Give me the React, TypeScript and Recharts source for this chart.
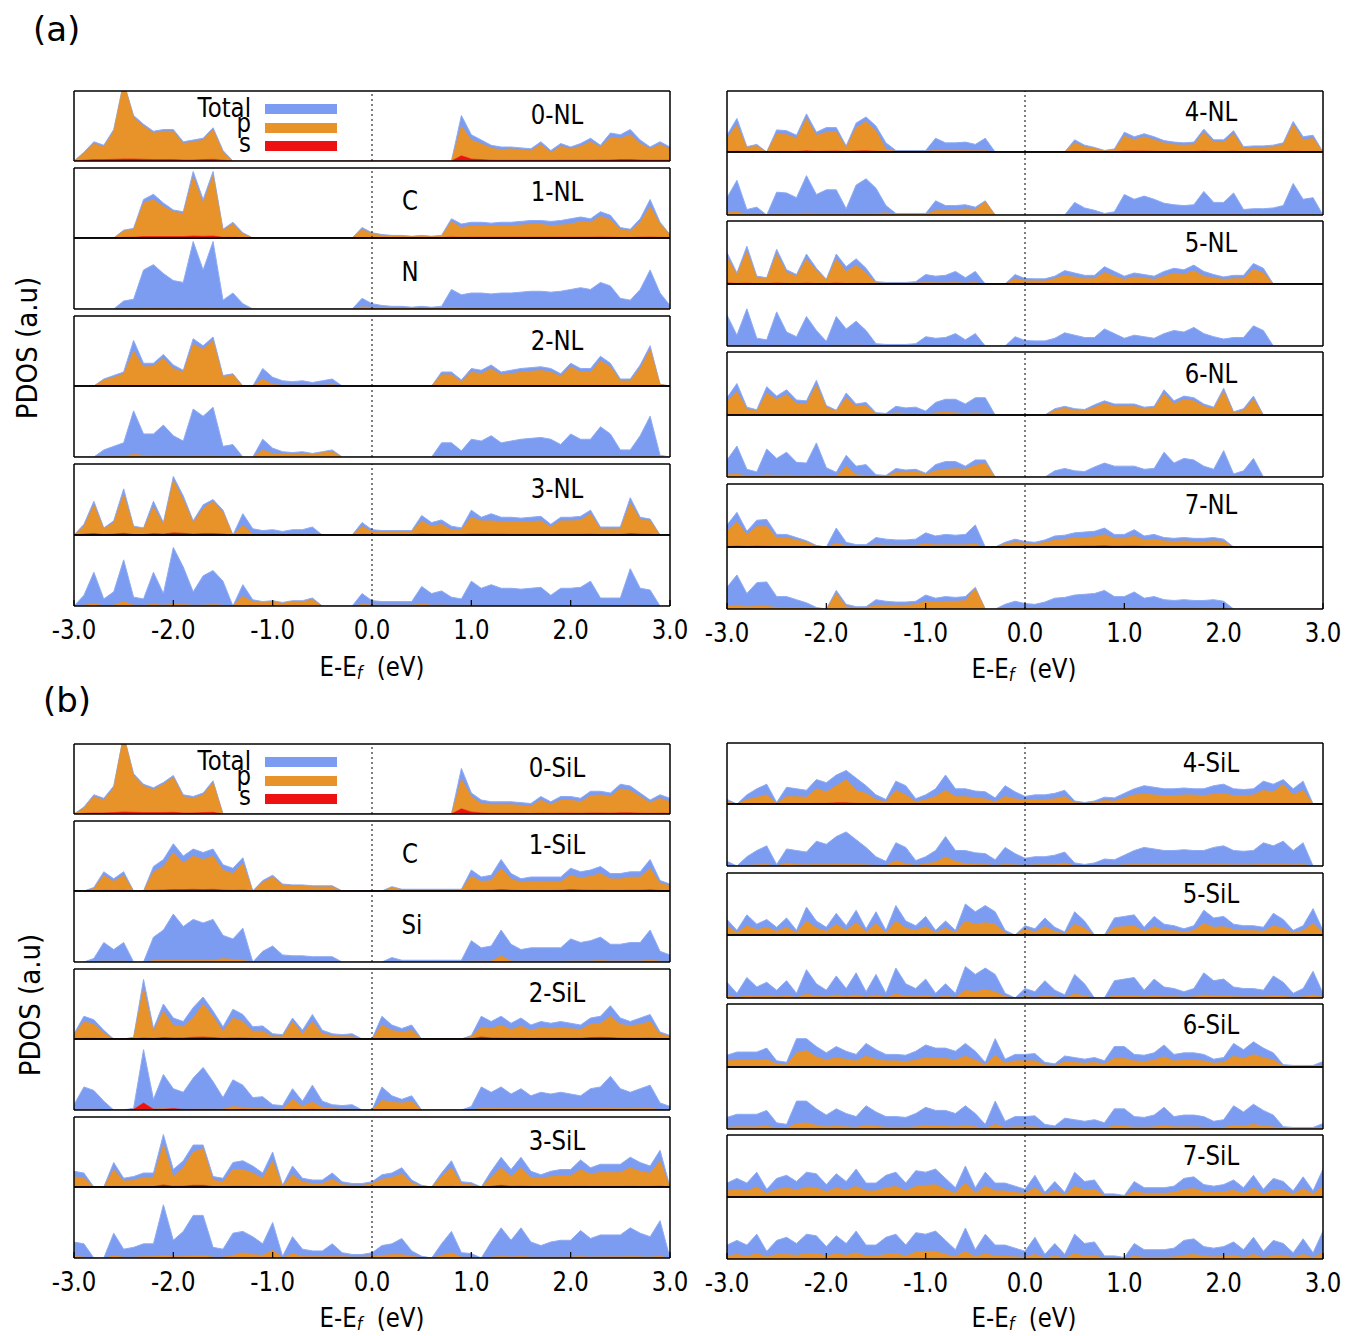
import { AreaChart, Area, XAxis, YAxis, ReferenceLine } from 'recharts'

const FONT = '"DejaVu Sans", Verdana, sans-serif'
const BLUE = '#7b9cf0'
const BLUE_EDGE = '#8eacf4'
const ORANGE = '#e8922a'
const RED = '#ee1111'

const PLOT_W = 596
const PAD = 2
const PAD_X = 32

// energy grid, eV
const energy = [
  -3.0, -2.9, -2.8, -2.7, -2.6, -2.5, -2.4, -2.3, -2.2, -2.1,
  -2.0, -1.9, -1.8, -1.7, -1.6, -1.5, -1.4, -1.3, -1.2, -1.1,
  -1.0, -0.9, -0.8, -0.7, -0.6, -0.5, -0.4, -0.3, -0.2, -0.1,
  0.0,
  0.1, 0.2, 0.3, 0.4, 0.5, 0.6, 0.7, 0.8, 0.9, 1.0,
  1.1, 1.2, 1.3, 1.4, 1.5, 1.6, 1.7, 1.8, 1.9, 2.0,
  2.1, 2.2, 2.3, 2.4, 2.5, 2.6, 2.7, 2.8, 2.9, 3.0,
]

const xTicks = [-3, -2, -1, 0, 1, 2, 3]
const yTicks = [1, 2, 3]

// ---------- (a) NL ----------
const totalNL0 = [
  0, 0.5, 1.1, 0.9, 1.8, 4.5, 2.6, 2.1, 1.7, 1.8,
  1.8, 1.1, 1.2, 1.3, 1.9, 0.6, 0, 0, 0, 0,
  0, 0, 0, 0, 0, 0, 0, 0, 0, 0,
  0,
  0, 0, 0, 0, 0, 0, 0, 0, 2.6, 1.5,
  1.2, 0.9, 0.8, 0.8, 0.75, 0.7, 1.1, 0.6, 1.0, 0.8,
  1.0, 1.3, 0.9, 1.6, 1.5, 1.8, 1.2, 0.8, 1.1, 0.8,
]
const pNL0 = [
  0, 0.45, 1.0, 0.8, 1.7, 4.5, 2.5, 2.0, 1.6, 1.7,
  1.7, 1.0, 1.1, 1.2, 1.8, 0.5, 0, 0, 0, 0,
  0, 0, 0, 0, 0, 0, 0, 0, 0, 0,
  0,
  0, 0, 0, 0, 0, 0, 0, 0, 2.0, 1.2,
  1.0, 0.75, 0.65, 0.7, 0.65, 0.6, 0.95, 0.5, 0.85, 0.7,
  0.85, 1.1, 0.8, 1.35, 1.3, 1.5, 1.0, 0.7, 0.95, 0.7,
]
const sNL0 = [
  0, 0.05, 0.08, 0.08, 0.1, 0.12, 0.12, 0.1, 0.08, 0.08,
  0.08, 0.06, 0.06, 0.08, 0.1, 0.05, 0, 0, 0, 0,
  0, 0, 0, 0, 0, 0, 0, 0, 0, 0,
  0,
  0, 0, 0, 0, 0, 0, 0, 0, 0.3, 0.12,
  0.08, 0.05, 0.04, 0.04, 0.04, 0.04, 0.04, 0.04, 0.05, 0.05,
  0.05, 0.05, 0.06, 0.06, 0.08, 0.08, 0.06, 0.05, 0.05, 0.05,
]

const totalNL1 = [
  0, 0, 0, 0, 0, 0.45, 0.55, 2.2, 2.5, 2.0,
  1.6, 1.5, 3.8, 2.2, 3.8, 0.5, 0.9, 0.3, 0, 0,
  0, 0, 0, 0, 0, 0, 0, 0, 0, 0.6,
  0.3,
  0.2, 0.15, 0.15, 0.1, 0.15, 0.1, 0.15, 1.1, 0.8, 0.9,
  0.9, 0.85, 0.9, 0.9, 0.95, 1.0, 1.0, 0.95, 1.0, 1.1,
  1.2, 1.1, 1.5, 1.3, 0.6, 0.5, 1.1, 2.2, 0.9, 0.2,
]
const pNL1C = [
  0, 0, 0, 0, 0, 0.4, 0.5, 2.0, 2.2, 1.8,
  1.5, 1.4, 3.5, 2.0, 3.6, 0.45, 0.8, 0.25, 0, 0,
  0, 0, 0, 0, 0, 0, 0, 0, 0, 0.5,
  0.25,
  0.15, 0.12, 0.12, 0.08, 0.12, 0.08, 0.12, 0.95, 0.6, 0.7,
  0.7, 0.7, 0.7, 0.7, 0.75, 0.8, 0.8, 0.7, 0.75, 0.8,
  0.95, 0.9, 1.25, 1.05, 0.5, 0.4, 0.9, 1.8, 0.8, 0.2,
]
const sNL1C = [
  0, 0, 0, 0, 0, 0.04, 0.05, 0.08, 0.08, 0.08,
  0.08, 0.08, 0.12, 0.1, 0.12, 0.04, 0.04, 0.02, 0, 0,
  0, 0, 0, 0, 0, 0, 0, 0, 0, 0.03,
  0.02,
  0.02, 0.02, 0.02, 0.02, 0.02, 0.02, 0.02, 0.06, 0.04, 0.05,
  0.05, 0.05, 0.05, 0.05, 0.05, 0.05, 0.05, 0.05, 0.05, 0.05,
  0.05, 0.05, 0.06, 0.05, 0.03, 0.03, 0.05, 0.06, 0.04, 0.02,
]
const pNL1N = [
  0, 0, 0, 0, 0, 0.02, 0.02, 0.05, 0.05, 0.05,
  0.05, 0.05, 0.06, 0.05, 0.06, 0.02, 0.03, 0.02, 0, 0,
  0, 0, 0, 0, 0, 0, 0, 0, 0, 0.12,
  0.1,
  0.08, 0.05, 0.04, 0.03, 0.04, 0.03, 0.05, 0.1, 0.05, 0.04,
  0.03, 0.03, 0.03, 0.03, 0.03, 0.03, 0.03, 0.03, 0.03, 0.03,
  0.03, 0.03, 0.04, 0.03, 0.02, 0.02, 0.03, 0.05, 0.03, 0.01,
]

const totalNL2 = [
  0, 0, 0, 0.4, 0.6, 0.8, 2.6, 1.3, 1.3, 1.8,
  1.2, 0.9, 2.7, 2.3, 2.8, 0.6, 0.7, 0, 0, 1.0,
  0.5, 0.3, 0.25, 0.3, 0.2, 0.3, 0.4, 0, 0, 0,
  0,
  0, 0, 0, 0, 0, 0, 0.8, 0.8, 0.35, 1.0,
  0.9, 1.2, 0.8, 0.9, 1.0, 1.05, 1.1, 1.0, 0.7, 1.3,
  1.0, 1.0, 1.7, 1.3, 0.4, 0.4, 1.2, 2.3, 0.1, 0,
]
const pNL2a = [
  0, 0, 0, 0.35, 0.5, 0.7, 2.0, 1.1, 1.15, 1.6,
  1.0, 0.8, 2.4, 2.1, 2.6, 0.5, 0.65, 0, 0, 0.4,
  0.1, 0.05, 0.05, 0.05, 0.05, 0.05, 0.08, 0, 0, 0,
  0,
  0, 0, 0, 0, 0, 0, 0.65, 0.65, 0.25, 0.8,
  0.7, 1.0, 0.65, 0.7, 0.8, 0.85, 0.9, 0.8, 0.55, 1.1,
  0.8, 0.8, 1.45, 1.1, 0.3, 0.3, 1.0, 2.1, 0.1, 0,
]
const pNL2b = [
  0, 0, 0, 0.02, 0.03, 0.05, 0.15, 0.1, 0.05, 0.05,
  0.05, 0.03, 0.05, 0.05, 0.05, 0.02, 0.03, 0, 0, 0.4,
  0.2, 0.2, 0.15, 0.2, 0.15, 0.25, 0.3, 0, 0, 0,
  0,
  0, 0, 0, 0, 0, 0, 0.02, 0.02, 0.01, 0.02,
  0.02, 0.02, 0.02, 0.02, 0.02, 0.02, 0.02, 0.02, 0.02, 0.02,
  0.02, 0.02, 0.03, 0.02, 0.01, 0.01, 0.02, 0.03, 0, 0,
]

const totalNL3 = [
  0, 0.6, 1.9, 0.4, 0.8, 2.6, 0.5, 0.4, 1.9, 0.7,
  3.3, 2.2, 0.8, 1.7, 2.0, 1.4, 0, 1.2, 0.35, 0.25,
  0.3, 0.2, 0.3, 0.3, 0.45, 0, 0, 0, 0, 0.7,
  0.3,
  0.25, 0.25, 0.25, 0.25, 1.1, 0.7, 0.85, 0.5, 0.4, 1.4,
  1.0, 1.2, 1.0, 1.0, 0.95, 1.0, 1.05, 0.6, 1.0, 1.0,
  1.05, 1.4, 0.45, 0.45, 0.45, 2.1, 1.0, 0.9, 0, 0,
]
const pNL3a = [
  0, 0.5, 1.7, 0.35, 0.7, 2.3, 0.45, 0.35, 1.6, 0.6,
  3.1, 2.0, 0.7, 1.5, 1.9, 1.3, 0, 0.55, 0.05, 0.05,
  0.05, 0.04, 0.05, 0.05, 0.06, 0, 0, 0, 0, 0.5,
  0.2,
  0.2, 0.2, 0.2, 0.2, 0.8, 0.5, 0.6, 0.3, 0.3, 1.0,
  0.8, 0.8, 0.75, 0.75, 0.75, 0.75, 0.8, 0.45, 0.8, 0.8,
  0.85, 1.2, 0.35, 0.35, 0.35, 1.8, 0.9, 0.8, 0, 0,
]
const sNL3a = [
  0, 0.05, 0.08, 0.03, 0.05, 0.1, 0.03, 0.03, 0.08, 0.05,
  0.12, 0.1, 0.05, 0.08, 0.08, 0.06, 0, 0.04, 0.02, 0.02,
  0.02, 0.02, 0.02, 0.02, 0.02, 0, 0, 0, 0, 0.04,
  0.02,
  0.02, 0.02, 0.02, 0.02, 0.06, 0.04, 0.04, 0.03, 0.03, 0.06,
  0.06, 0.05, 0.05, 0.04, 0.04, 0.04, 0.04, 0.03, 0.04, 0.04,
  0.04, 0.05, 0.03, 0.03, 0.03, 0.08, 0.05, 0.04, 0, 0,
]
const pNL3b = [
  0, 0.05, 0.12, 0.03, 0.05, 0.25, 0.05, 0.04, 0.1, 0.05,
  0.1, 0.08, 0.05, 0.06, 0.08, 0.05, 0, 0.55, 0.25, 0.2,
  0.25, 0.15, 0.25, 0.25, 0.35, 0, 0, 0, 0, 0.1,
  0.05,
  0.05, 0.05, 0.05, 0.05, 0.1, 0.05, 0.06, 0.04, 0.04, 0.05,
  0.03, 0.03, 0.03, 0.03, 0.03, 0.03, 0.03, 0.03, 0.03, 0.03,
  0.03, 0.04, 0.02, 0.02, 0.02, 0.05, 0.03, 0.03, 0, 0,
]

const totalNL4 = [
  1.1, 2.2, 0.35, 0.5, 0, 1.45, 1.4, 1.1, 2.5, 1.3,
  1.6, 1.6, 0.4, 1.9, 2.3, 1.7, 0.6, 0.1, 0.1, 0.1,
  0.1, 0.9, 0.6, 0.6, 0.65, 0.5, 0.9, 0, 0, 0,
  0,
  0, 0, 0, 0, 0.8, 0.45, 0.3, 0.1, 0.2, 1.3,
  1.0, 1.2, 1.0, 0.75, 0.65, 0.6, 0.65, 1.5, 0.8, 0.8,
  1.4, 0.35, 0.4, 0.4, 0.45, 0.6, 2.0, 1.0, 1.1, 0,
]
const pNL4a = [
  0.9, 1.8, 0.3, 0.4, 0, 1.2, 1.15, 0.9, 2.2, 1.1,
  1.3, 1.35, 0.3, 1.6, 2.0, 1.4, 0.2, 0.05, 0.05, 0.05,
  0.05, 0.12, 0.1, 0.1, 0.1, 0.08, 0.1, 0, 0, 0,
  0,
  0, 0, 0, 0, 0.6, 0.35, 0.25, 0.08, 0.15, 1.05,
  0.8, 1.0, 0.8, 0.6, 0.5, 0.45, 0.5, 1.3, 0.65, 0.65,
  1.2, 0.25, 0.3, 0.3, 0.35, 0.5, 1.8, 0.8, 0.9, 0,
]
const sNL4a = [
  0.03, 0.05, 0.02, 0.02, 0, 0.04, 0.04, 0.03, 0.08, 0.04,
  0.05, 0.07, 0.02, 0.07, 0.08, 0.05, 0.02, 0, 0, 0,
  0, 0, 0, 0, 0, 0, 0, 0, 0, 0,
  0,
  0, 0, 0, 0, 0.04, 0.02, 0.02, 0.01, 0.01, 0.07,
  0.07, 0.06, 0.04, 0.03, 0.02, 0.02, 0.03, 0.06, 0.03, 0.03,
  0.05, 0.02, 0.02, 0.02, 0.02, 0.02, 0.06, 0.03, 0.03, 0,
]
const pNL4b = [
  0.15, 0.2, 0.05, 0.05, 0, 0.1, 0.1, 0.08, 0.12, 0.1,
  0.1, 0.1, 0.05, 0.1, 0.1, 0.1, 0.15, 0.05, 0.05, 0.05,
  0.05, 0.3, 0.3, 0.3, 0.4, 0.35, 0.85, 0, 0, 0,
  0,
  0, 0, 0, 0, 0.03, 0.02, 0.02, 0.01, 0.01, 0.03,
  0.03, 0.03, 0.03, 0.02, 0.02, 0.02, 0.02, 0.03, 0.02, 0.02,
  0.03, 0.01, 0.01, 0.01, 0.01, 0.02, 0.03, 0.02, 0.02, 0,
]

const totalNL5 = [
  2.0, 0.7, 2.4, 0.5, 0.4, 2.2, 0.9, 0.6, 1.9, 1.0,
  0.3, 1.9, 1.1, 1.6, 1.0, 0.15, 0.1, 0.1, 0.1, 0.15,
  0.6, 0.5, 0.55, 0.8, 0.4, 0.8, 0, 0, 0, 0.6,
  0.35,
  0.33, 0.33, 0.5, 0.85, 0.7, 0.55, 0.55, 1.1, 0.8, 0.5,
  0.7, 0.6, 0.5, 0.8, 1.0, 0.9, 1.2, 0.8, 0.6, 0.45,
  0.55, 0.55, 1.3, 1.0, 0, 0, 0, 0, 0, 0,
]
const pNL5a = [
  1.7, 0.6, 2.1, 0.4, 0.35, 1.9, 0.75, 0.5, 1.6, 0.85,
  0.25, 1.6, 0.8, 1.2, 0.7, 0.08, 0.05, 0.05, 0.05, 0.06,
  0.1, 0.08, 0.08, 0.1, 0.06, 0.1, 0, 0, 0, 0.35,
  0.2,
  0.2, 0.2, 0.35, 0.55, 0.45, 0.35, 0.35, 0.75, 0.5, 0.3,
  0.45, 0.4, 0.3, 0.5, 0.7, 0.6, 0.85, 0.5, 0.4, 0.3,
  0.35, 0.35, 0.95, 0.7, 0, 0, 0, 0, 0, 0,
]
const sNL5a = [
  0.08, 0.03, 0.06, 0.02, 0.02, 0.07, 0.03, 0.02, 0.06, 0.03,
  0.02, 0.07, 0.03, 0.04, 0.03, 0, 0, 0, 0, 0,
  0, 0, 0, 0, 0, 0, 0, 0, 0, 0.02,
  0.02,
  0.02, 0.02, 0.02, 0.03, 0.03, 0.03, 0.02, 0.05, 0.03, 0.02,
  0.02, 0.02, 0.02, 0.02, 0.02, 0.02, 0.02, 0.02, 0.02, 0.02,
  0.02, 0.02, 0.04, 0.03, 0, 0, 0, 0, 0, 0,
]
const pNL5b = [
  0.06, 0.03, 0.06, 0.02, 0.02, 0.05, 0.03, 0.02, 0.05, 0.03,
  0.02, 0.05, 0.04, 0.06, 0.03, 0.01, 0.01, 0.01, 0.01, 0.01,
  0.02, 0.02, 0.02, 0.02, 0.02, 0.02, 0, 0, 0, 0.02,
  0.02,
  0.02, 0.02, 0.02, 0.02, 0.02, 0.02, 0.02, 0.03, 0.02, 0.02,
  0.02, 0.02, 0.02, 0.02, 0.02, 0.02, 0.03, 0.02, 0.02, 0.02,
  0.02, 0.02, 0.03, 0.02, 0, 0, 0, 0, 0, 0,
]

const totalNL6 = [
  1.1, 2.0, 0.5, 0.33, 1.8, 1.2, 1.6, 0.95, 0.9, 2.2,
  0.6, 0.3, 1.4, 0.7, 0.8, 0.15, 0.1, 0.55, 0.45, 0.5,
  0.25, 0.8, 1.0, 1.0, 0.7, 1.1, 1.1, 0, 0, 0,
  0,
  0, 0, 0.4, 0.55, 0.4, 0.35, 0.65, 0.9, 0.7, 0.7,
  0.7, 0.5, 0.55, 1.6, 0.9, 1.2, 1.1, 0.7, 0.5, 1.7,
  0.2, 0.4, 1.2, 0, 0, 0, 0, 0, 0, 0,
]
const pNL6a = [
  0.85, 1.5, 0.4, 0.25, 1.4, 1.0, 1.3, 0.75, 0.7, 1.9,
  0.5, 0.25, 1.1, 0.55, 0.6, 0.08, 0.05, 0.15, 0.1, 0.1,
  0.05, 0.15, 0.2, 0.15, 0.1, 0.15, 0.1, 0, 0, 0,
  0,
  0, 0, 0.3, 0.45, 0.3, 0.3, 0.5, 0.75, 0.55, 0.55,
  0.55, 0.4, 0.45, 1.35, 0.7, 1.0, 0.9, 0.55, 0.4, 1.5,
  0.15, 0.3, 1.0, 0, 0, 0, 0, 0, 0, 0,
]
const pNL6b = [
  0.15, 0.2, 0.08, 0.05, 0.15, 0.1, 0.12, 0.08, 0.08, 0.1,
  0.05, 0.05, 0.7, 0.15, 0.1, 0.05, 0.05, 0.3, 0.3, 0.35,
  0.2, 0.4, 0.5, 0.55, 0.5, 0.75, 0.9, 0, 0, 0,
  0,
  0, 0, 0.02, 0.02, 0.02, 0.02, 0.02, 0.03, 0.02, 0.02,
  0.02, 0.02, 0.02, 0.04, 0.02, 0.03, 0.03, 0.02, 0.02, 0.04,
  0.01, 0.01, 0.03, 0, 0, 0, 0, 0, 0, 0,
]

const totalNL7 = [
  1.4, 2.2, 1.0, 1.7, 1.75, 0.8, 0.8, 0.6, 0.4, 0.1,
  0, 1.2, 0.3, 0.15, 0.15, 0.6, 0.5, 0.45, 0.45, 0.5,
  0.9, 0.7, 0.8, 0.75, 0.8, 1.4, 0, 0, 0.3, 0.5,
  0.35,
  0.3, 0.45, 0.7, 0.75, 0.9, 0.95, 1.0, 1.2, 0.8, 0.8,
  1.1, 0.7, 0.8, 0.6, 0.55, 0.6, 0.55, 0.55, 0.6, 0.5,
  0, 0, 0, 0, 0, 0, 0, 0, 0, 0,
]
const pNL7a = [
  1.0, 1.6, 0.8, 1.3, 1.3, 0.6, 0.6, 0.45, 0.3, 0.08,
  0, 0.25, 0.1, 0.08, 0.08, 0.15, 0.12, 0.12, 0.12, 0.12,
  0.2, 0.15, 0.15, 0.15, 0.15, 0.2, 0, 0, 0.2, 0.3,
  0.25,
  0.2, 0.3, 0.45, 0.5, 0.6, 0.6, 0.65, 0.8, 0.55, 0.55,
  0.7, 0.45, 0.5, 0.4, 0.35, 0.4, 0.35, 0.35, 0.4, 0.35,
  0, 0, 0, 0, 0, 0, 0, 0, 0, 0,
]
const sNL7a = [
  0.03, 0.06, 0.03, 0.06, 0.04, 0.02, 0.02, 0.02, 0.01, 0,
  0, 0.02, 0, 0, 0, 0.01, 0.01, 0.01, 0.01, 0.01,
  0.01, 0.01, 0.01, 0.01, 0.01, 0.01, 0, 0, 0.01, 0.02,
  0.02,
  0.02, 0.02, 0.03, 0.03, 0.04, 0.06, 0.06, 0.08, 0.04, 0.05,
  0.06, 0.03, 0.03, 0.02, 0.02, 0.02, 0.02, 0.02, 0.02, 0.02,
  0, 0, 0, 0, 0, 0, 0, 0, 0, 0,
]
const pNL7b = [
  0.2, 0.25, 0.15, 0.2, 0.2, 0.1, 0.1, 0.08, 0.05, 0.02,
  0, 1.0, 0.15, 0.08, 0.1, 0.25, 0.25, 0.25, 0.25, 0.3,
  0.5, 0.45, 0.5, 0.5, 0.55, 1.3, 0, 0, 0.05, 0.05,
  0.05,
  0.05, 0.05, 0.05, 0.05, 0.05, 0.05, 0.05, 0.05, 0.05, 0.05,
  0.05, 0.05, 0.05, 0.05, 0.05, 0.05, 0.05, 0.05, 0.05, 0.05,
  0, 0, 0, 0, 0, 0, 0, 0, 0, 0,
]

// ---------- (b) SiL ----------
const totalSi0 = [
  0, 0.4, 1.1, 0.9, 1.6, 4.5, 2.3, 1.7, 1.5, 1.8,
  2.2, 1.1, 1.0, 1.2, 1.9, 0, 0, 0, 0, 0,
  0, 0, 0, 0, 0, 0, 0, 0, 0, 0,
  0,
  0, 0, 0, 0, 0, 0, 0, 0, 2.6, 1.2,
  0.8, 0.7, 0.7, 0.7, 0.65, 0.6, 1.0, 0.7, 1.0, 1.0,
  0.9, 1.3, 1.3, 1.2, 1.7, 1.6, 1.2, 0.8, 1.1, 0.9,
]
const pSi0 = [
  0, 0.35, 1.0, 0.8, 1.5, 4.5, 2.2, 1.6, 1.4, 1.7,
  2.1, 1.0, 0.9, 1.1, 1.8, 0, 0, 0, 0, 0,
  0, 0, 0, 0, 0, 0, 0, 0, 0, 0,
  0,
  0, 0, 0, 0, 0, 0, 0, 0, 2.0, 1.0,
  0.6, 0.55, 0.55, 0.55, 0.5, 0.45, 0.8, 0.55, 0.8, 0.8,
  0.7, 1.05, 1.1, 1.0, 1.45, 1.35, 1.0, 0.65, 0.9, 0.7,
]
const sSi0 = [
  0, 0.04, 0.06, 0.06, 0.08, 0.12, 0.1, 0.08, 0.08, 0.08,
  0.1, 0.06, 0.06, 0.08, 0.1, 0, 0, 0, 0, 0,
  0, 0, 0, 0, 0, 0, 0, 0, 0, 0,
  0,
  0, 0, 0, 0, 0, 0, 0, 0, 0.3, 0.12,
  0.06, 0.04, 0.04, 0.04, 0.04, 0.03, 0.05, 0.04, 0.05, 0.05,
  0.04, 0.06, 0.06, 0.05, 0.07, 0.07, 0.05, 0.04, 0.05, 0.04,
]

const totalSi1 = [
  0, 0, 0.2, 1.1, 0.7, 1.1, 0, 0, 1.4, 1.8,
  2.7, 2.0, 2.4, 2.2, 2.4, 1.5, 1.3, 1.9, 0, 0.6,
  0.9, 0.4, 0.35, 0.35, 0.3, 0.3, 0.3, 0, 0, 0,
  0,
  0, 0.25, 0.1, 0.1, 0.1, 0.1, 0.1, 0.1, 0.1, 1.2,
  0.8, 0.9, 1.8, 1.0, 0.7, 0.8, 0.8, 0.8, 0.8, 1.3,
  1.1, 1.2, 1.4, 1.0, 1.0, 1.1, 1.1, 1.8, 0.6, 0.4,
]
const pSi1C = [
  0, 0, 0.15, 0.9, 0.55, 0.9, 0, 0, 1.1, 1.4,
  2.2, 1.6, 2.0, 1.8, 2.0, 1.2, 1.0, 1.6, 0, 0.5,
  0.8, 0.35, 0.3, 0.3, 0.25, 0.25, 0.25, 0, 0, 0,
  0,
  0, 0.2, 0.08, 0.08, 0.08, 0.08, 0.08, 0.08, 0.08, 0.85,
  0.55, 0.6, 1.3, 0.7, 0.5, 0.55, 0.55, 0.55, 0.55, 0.9,
  0.75, 0.85, 1.0, 0.7, 0.7, 0.8, 0.8, 1.3, 0.45, 0.3,
]
const sSi1C = [
  0, 0, 0.01, 0.04, 0.03, 0.04, 0, 0, 0.05, 0.06,
  0.08, 0.08, 0.1, 0.08, 0.1, 0.06, 0.04, 0.06, 0, 0.03,
  0.02, 0.02, 0.01, 0.01, 0.01, 0.01, 0.01, 0, 0, 0,
  0,
  0, 0.01, 0.01, 0.01, 0.01, 0.01, 0.01, 0.01, 0.01, 0.05,
  0.04, 0.05, 0.08, 0.05, 0.03, 0.03, 0.03, 0.03, 0.04, 0.08,
  0.06, 0.05, 0.05, 0.04, 0.04, 0.05, 0.05, 0.07, 0.03, 0.02,
]
const pSi1Si = [
  0, 0, 0.02, 0.05, 0.04, 0.05, 0, 0, 0.08, 0.1,
  0.1, 0.1, 0.1, 0.1, 0.1, 0.2, 0.15, 0.1, 0, 0.05,
  0.03, 0.02, 0.02, 0.02, 0.02, 0.02, 0.02, 0, 0, 0,
  0,
  0, 0.02, 0.02, 0.02, 0.02, 0.02, 0.02, 0.02, 0.02, 0.05,
  0.05, 0.05, 0.35, 0.05, 0.04, 0.04, 0.04, 0.04, 0.04, 0.06,
  0.06, 0.06, 0.08, 0.06, 0.06, 0.06, 0.06, 0.1, 0.05, 0.03,
]

const totalSi2 = [
  0.3, 1.3, 1.1, 0.5, 0, 0, 0.1, 3.4, 0.6, 2.0,
  1.2, 1.0, 1.8, 2.4, 1.6, 0.7, 1.7, 1.4, 0.7, 0.75,
  0.3, 0.25, 1.2, 0.5, 1.4, 0.5, 0.3, 0.25, 0.3, 0,
  0,
  1.3, 0.8, 0.6, 0.8, 0, 0, 0, 0, 0, 0.2,
  1.3, 1.0, 1.3, 0.9, 1.2, 0.8, 1.0, 0.9, 1.0, 0.9,
  0.8, 1.2, 1.3, 1.9, 1.2, 1.0, 1.2, 1.4, 0.4, 0.2,
]
const pSi2a = [
  0.25, 1.0, 0.85, 0.35, 0, 0, 0.08, 2.9, 0.45, 1.6,
  0.8, 0.7, 1.2, 2.0, 1.3, 0.45, 1.2, 1.0, 0.45, 0.45,
  0.15, 0.15, 1.0, 0.3, 1.0, 0.3, 0.2, 0.15, 0.15, 0,
  0,
  0.8, 0.5, 0.4, 0.5, 0, 0, 0, 0, 0, 0.15,
  0.7, 0.6, 0.8, 0.55, 0.75, 0.5, 0.65, 0.6, 0.65, 0.6,
  0.55, 0.85, 0.9, 1.3, 0.85, 0.75, 0.85, 1.0, 0.3, 0.15,
]
const sSi2a = [
  0.01, 0.04, 0.04, 0.02, 0, 0, 0.01, 0.06, 0.03, 0.08,
  0.06, 0.06, 0.1, 0.12, 0.08, 0.04, 0.06, 0.06, 0.03, 0.03,
  0.02, 0.01, 0.03, 0.02, 0.03, 0.02, 0.01, 0.01, 0.01, 0,
  0,
  0.03, 0.02, 0.02, 0.02, 0, 0, 0, 0, 0, 0.02,
  0.12, 0.06, 0.05, 0.04, 0.04, 0.03, 0.04, 0.04, 0.04, 0.04,
  0.04, 0.08, 0.1, 0.08, 0.05, 0.04, 0.04, 0.05, 0.02, 0.01,
]
const pSi2b = [
  0.02, 0.05, 0.05, 0.03, 0, 0, 0.05, 0.4, 0.05, 0.08,
  0.05, 0.04, 0.05, 0.06, 0.05, 0.05, 0.2, 0.15, 0.08, 0.08,
  0.05, 0.05, 0.6, 0.2, 0.45, 0.15, 0.08, 0.05, 0.05, 0,
  0,
  0.55, 0.45, 0.4, 0.5, 0, 0, 0, 0, 0, 0.02,
  0.1, 0.08, 0.1, 0.08, 0.08, 0.08, 0.08, 0.08, 0.08, 0.08,
  0.08, 0.1, 0.1, 0.1, 0.08, 0.08, 0.1, 0.1, 0.03, 0.02,
]
const sSi2b = [
  0, 0, 0, 0, 0, 0, 0.03, 0.4, 0.04, 0.04,
  0.08, 0.03, 0.03, 0.03, 0.03, 0.02, 0.02, 0.04, 0.02, 0.02,
  0.02, 0.01, 0.04, 0.02, 0.04, 0.02, 0.01, 0.01, 0.01, 0,
  0,
  0.02, 0.02, 0.02, 0.02, 0, 0, 0, 0, 0, 0.01,
  0.02, 0.02, 0.02, 0.02, 0.02, 0.02, 0.02, 0.02, 0.02, 0.02,
  0.02, 0.03, 0.03, 0.03, 0.02, 0.02, 0.02, 0.02, 0.01, 0.01,
]

const totalSi3 = [
  0.9, 0.8, 0, 0, 1.4, 0.5, 0.6, 0.8, 0.8, 3.0,
  1.0, 1.5, 2.4, 2.4, 0.6, 0.5, 1.4, 1.5, 1.2, 0.8,
  2.0, 0.1, 1.2, 0.5, 0.4, 0.4, 0.8, 0.3, 0.2, 0.2,
  0.3,
  0.7, 0.8, 1.1, 0.4, 0.1, 0, 0.8, 1.5, 0.3, 0.25,
  0, 0.9, 1.7, 1.0, 1.7, 0.9, 0.7, 0.9, 1.0, 1.0,
  1.55, 1.1, 1.3, 1.3, 1.3, 1.7, 1.4, 1.2, 2.1, 0,
]
const pSi3a = [
  0.6, 0.5, 0, 0, 1.0, 0.35, 0.4, 0.55, 0.55, 2.45,
  0.6, 1.1, 2.0, 2.2, 0.4, 0.3, 1.0, 1.0, 0.8, 0.5,
  1.5, 0.05, 0.7, 0.3, 0.2, 0.2, 0.45, 0.15, 0.1, 0.1,
  0.2,
  0.45, 0.55, 0.75, 0.25, 0.05, 0, 0.6, 1.1, 0.2, 0.15,
  0, 0.55, 1.1, 0.6, 1.1, 0.55, 0.5, 0.6, 0.65, 0.65,
  1.0, 0.75, 0.85, 0.85, 0.85, 1.1, 0.9, 0.8, 1.5, 0,
]
const sSi3a = [
  0.02, 0.02, 0, 0, 0.03, 0.02, 0.02, 0.02, 0.03, 0.12,
  0.04, 0.05, 0.1, 0.1, 0.03, 0.02, 0.04, 0.04, 0.03, 0.02,
  0.04, 0, 0.02, 0.01, 0.01, 0.01, 0.01, 0.01, 0.01, 0.01,
  0.01,
  0.02, 0.02, 0.03, 0.01, 0.01, 0, 0.02, 0.04, 0.01, 0.01,
  0, 0.04, 0.1, 0.04, 0.05, 0.03, 0.02, 0.03, 0.03, 0.03,
  0.04, 0.03, 0.03, 0.03, 0.03, 0.04, 0.03, 0.03, 0.05, 0,
]
const pSi3b = [
  0.1, 0.05, 0, 0, 0.12, 0.05, 0.05, 0.08, 0.08, 0.15,
  0.08, 0.1, 0.12, 0.15, 0.05, 0.05, 0.15, 0.3, 0.2, 0.15,
  0.45, 0.02, 0.25, 0.1, 0.08, 0.08, 0.1, 0.08, 0.06, 0.06,
  0.08,
  0.15, 0.2, 0.2, 0.1, 0.03, 0, 0.15, 0.3, 0.05, 0.05,
  0, 0.05, 0.1, 0.06, 0.1, 0.06, 0.05, 0.06, 0.06, 0.06,
  0.08, 0.06, 0.07, 0.07, 0.07, 0.08, 0.07, 0.06, 0.1, 0,
]

const totalSi4 = [
  0.3, 0, 0.6, 1.0, 1.3, 0.1, 1.1, 1.0, 0.9, 1.6,
  1.4, 1.9, 2.2, 1.7, 1.2, 0.6, 0.3, 1.5, 1.2, 0.35,
  0.6, 1.0, 1.9, 1.0, 1.0, 0.85, 0.8, 0.4, 1.2, 0.8,
  0.5,
  0.6, 0.6, 0.7, 0.9, 0.2, 0.1, 0.2, 0.45, 0.4, 0.7,
  1.0, 1.2, 1.1, 1.0, 1.0, 1.05, 1.0, 1.0, 1.2, 1.3,
  1.0, 0.95, 1.0, 1.5, 1.3, 1.6, 1.0, 1.5, 0, 0,
]
const pSi4a = [
  0.15, 0, 0.3, 0.45, 0.6, 0.05, 0.5, 0.5, 0.45, 1.0,
  0.8, 1.2, 1.6, 0.9, 0.7, 0.3, 0.15, 0.9, 0.6, 0.15,
  0.3, 0.5, 0.9, 0.5, 0.5, 0.4, 0.35, 0.15, 0.5, 0.35,
  0.25,
  0.3, 0.3, 0.35, 0.5, 0.1, 0.05, 0.1, 0.25, 0.2, 0.4,
  0.6, 0.65, 0.6, 0.55, 0.55, 0.6, 0.6, 0.55, 0.65, 0.7,
  0.55, 0.55, 0.6, 0.9, 0.8, 1.3, 0.6, 0.9, 0, 0,
]
const sSi4a = [
  0.01, 0, 0.02, 0.03, 0.03, 0, 0.03, 0.03, 0.02, 0.04,
  0.04, 0.08, 0.08, 0.04, 0.03, 0.02, 0.01, 0.03, 0.03, 0.01,
  0.02, 0.02, 0.03, 0.02, 0.02, 0.02, 0.02, 0.01, 0.02, 0.02,
  0.01,
  0.02, 0.02, 0.02, 0.02, 0.01, 0, 0.01, 0.01, 0.01, 0.02,
  0.02, 0.02, 0.02, 0.02, 0.02, 0.02, 0.02, 0.02, 0.02, 0.02,
  0.02, 0.02, 0.02, 0.02, 0.02, 0.02, 0.02, 0.02, 0, 0,
]
const pSi4b = [
  0.02, 0, 0.05, 0.08, 0.1, 0.01, 0.2, 0.1, 0.08, 0.1,
  0.1, 0.12, 0.12, 0.1, 0.08, 0.05, 0.03, 0.35, 0.15, 0.05,
  0.15, 0.25, 0.6, 0.3, 0.15, 0.12, 0.1, 0.05, 0.1, 0.08,
  0.05,
  0.08, 0.1, 0.1, 0.2, 0.03, 0.01, 0.03, 0.05, 0.05, 0.08,
  0.1, 0.1, 0.1, 0.1, 0.1, 0.1, 0.1, 0.1, 0.1, 0.1,
  0.08, 0.08, 0.08, 0.12, 0.1, 0.12, 0.08, 0.1, 0, 0,
]

const totalSi5 = [
  1.0, 0.3, 1.3, 0.7, 1.0, 0.5, 1.1, 0.3, 1.8, 0.9,
  0.5, 1.4, 0.6, 1.6, 0.4, 1.5, 0.3, 1.9, 0.9, 0.6,
  1.2, 0.3, 0.9, 0.3, 2.0, 1.5, 1.9, 1.5, 0.3, 0,
  0.6,
  0.4, 1.1, 0.5, 0.2, 1.5, 0.9, 0, 0, 1.1, 1.2,
  1.3, 0.5, 1.2, 0.7, 0.6, 0.4, 0.6, 1.6, 1.1, 1.2,
  0.7, 0.6, 0.6, 0.5, 1.4, 1.0, 0.3, 0.6, 1.7, 0.3,
]
const pSi5a = [
  0.6, 0.15, 0.6, 0.35, 0.5, 0.25, 0.5, 0.15, 0.9, 0.45,
  0.25, 0.7, 0.3, 0.8, 0.2, 0.75, 0.15, 0.9, 0.45, 0.3,
  0.55, 0.15, 0.45, 0.15, 0.9, 0.7, 0.8, 0.7, 0.15, 0,
  0.4,
  0.2, 0.55, 0.25, 0.1, 0.7, 0.45, 0, 0, 0.5, 0.55,
  0.6, 0.25, 0.55, 0.3, 0.3, 0.2, 0.3, 0.75, 0.5, 0.55,
  0.35, 0.3, 0.3, 0.25, 0.6, 0.45, 0.15, 0.3, 0.75, 0.15,
]
const pSi5b = [
  0.15, 0.05, 0.15, 0.1, 0.15, 0.08, 0.15, 0.05, 0.25, 0.12,
  0.08, 0.2, 0.1, 0.2, 0.06, 0.2, 0.05, 0.25, 0.12, 0.1,
  0.15, 0.05, 0.12, 0.05, 0.5, 0.4, 0.55, 0.4, 0.1, 0,
  0.1,
  0.05, 0.15, 0.08, 0.03, 0.25, 0.15, 0, 0, 0.15, 0.15,
  0.15, 0.08, 0.15, 0.1, 0.1, 0.06, 0.08, 0.2, 0.15, 0.15,
  0.1, 0.08, 0.08, 0.08, 0.15, 0.12, 0.05, 0.08, 0.2, 0.05,
]

const totalSi6 = [
  0.75, 0.95, 0.95, 0.95, 1.2, 0.4, 0.3, 1.8, 1.8, 1.3,
  0.9, 1.3, 1.0, 0.8, 1.5, 1.1, 0.8, 0.8, 0.75, 1.0,
  1.4, 1.2, 1.2, 1.0, 1.5, 1.0, 0.3, 1.8, 0.5, 0.8,
  0.8,
  0.85, 0.3, 0.2, 0.7, 0.6, 0.5, 0.6, 0.4, 1.3, 1.3,
  0.8, 0.75, 0.9, 1.4, 0.8, 0.9, 0.9, 0.8, 0.5, 0.6,
  1.5, 1.1, 1.6, 1.2, 0.9, 0.15, 0.1, 0.1, 0.1, 0.35,
]
const pSi6a = [
  0.4, 0.45, 0.45, 0.45, 0.5, 0.2, 0.15, 0.9, 1.05, 0.65,
  0.45, 0.6, 0.5, 0.4, 0.7, 0.5, 0.4, 0.4, 0.35, 0.45,
  0.6, 0.55, 0.55, 0.45, 0.7, 0.45, 0.15, 0.75, 0.25, 0.4,
  0.4,
  0.4, 0.15, 0.1, 0.35, 0.3, 0.25, 0.3, 0.2, 0.55, 0.55,
  0.4, 0.35, 0.45, 0.65, 0.4, 0.45, 0.45, 0.4, 0.25, 0.3,
  0.7, 0.55, 0.8, 0.6, 0.45, 0.08, 0.05, 0.05, 0.05, 0.15,
]
const pSi6b = [
  0.12, 0.15, 0.15, 0.15, 0.2, 0.08, 0.06, 0.35, 0.4, 0.25,
  0.15, 0.2, 0.15, 0.12, 0.25, 0.2, 0.12, 0.12, 0.12, 0.15,
  0.25, 0.2, 0.2, 0.15, 0.25, 0.15, 0.05, 0.3, 0.1, 0.15,
  0.15,
  0.15, 0.05, 0.04, 0.12, 0.1, 0.08, 0.1, 0.08, 0.2, 0.2,
  0.12, 0.12, 0.15, 0.25, 0.15, 0.15, 0.15, 0.12, 0.08, 0.1,
  0.25, 0.2, 0.3, 0.2, 0.15, 0.03, 0.02, 0.02, 0.02, 0.05,
]

const totalSi7 = [
  0.9, 1.2, 0.9, 1.6, 0.5, 1.2, 1.4, 1.0, 1.6, 1.5,
  0.8, 1.5, 1.0, 1.8, 0.9, 0.9, 1.4, 1.6, 0.9, 1.7,
  1.6, 1.8, 1.2, 0.6, 2.0, 0.6, 1.6, 0.9, 0.9, 0.7,
  0.5,
  1.4, 0.3, 1.0, 0.3, 1.6, 1.0, 1.1, 0.2, 0.2, 0.1,
  1.0, 0.6, 0.6, 0.6, 0.7, 1.2, 1.3, 0.8, 0.7, 0.8,
  1.1, 0.6, 1.4, 0.5, 1.2, 1.0, 0.4, 1.3, 0.4, 1.8,
]
const pSi7a = [
  0.4, 0.5, 0.4, 0.65, 0.25, 0.5, 0.6, 0.45, 0.65, 0.6,
  0.35, 0.6, 0.45, 0.7, 0.4, 0.4, 0.6, 0.7, 0.4, 0.7,
  0.75, 0.8, 0.5, 0.25, 0.9, 0.25, 0.7, 0.4, 0.4, 0.3,
  0.25,
  0.6, 0.15, 0.45, 0.15, 0.7, 0.45, 0.5, 0.1, 0.1, 0.05,
  0.4, 0.25, 0.25, 0.25, 0.3, 0.5, 0.55, 0.35, 0.3, 0.35,
  0.45, 0.25, 0.6, 0.2, 0.5, 0.45, 0.2, 0.55, 0.2, 0.7,
]
const pSi7b = [
  0.2, 0.3, 0.2, 0.35, 0.15, 0.3, 0.3, 0.25, 0.35, 0.35,
  0.2, 0.35, 0.25, 0.4, 0.2, 0.2, 0.3, 0.35, 0.2, 0.45,
  0.5, 0.5, 0.3, 0.15, 0.5, 0.15, 0.35, 0.2, 0.2, 0.15,
  0.12,
  0.3, 0.08, 0.2, 0.08, 0.35, 0.2, 0.25, 0.05, 0.05, 0.03,
  0.2, 0.12, 0.12, 0.12, 0.15, 0.25, 0.3, 0.2, 0.15, 0.2,
  0.25, 0.12, 0.3, 0.1, 0.25, 0.25, 0.1, 0.3, 0.1, 0.4,
]

// panel layout: plot box in page pixels
const panels = [
  { left: 74, top: 91, bottom: 161, total: totalNL0, p: pNL0, s: sNL0 },
  { left: 74, top: 168, bottom: 238, total: totalNL1, p: pNL1C, s: sNL1C },
  { left: 74, top: 238, bottom: 309, total: totalNL1, p: pNL1N },
  { left: 74, top: 316, bottom: 386, total: totalNL2, p: pNL2a },
  { left: 74, top: 386, bottom: 457, total: totalNL2, p: pNL2b },
  { left: 74, top: 464, bottom: 535, total: totalNL3, p: pNL3a, s: sNL3a },
  { left: 74, top: 535, bottom: 606, total: totalNL3, p: pNL3b, labels: true },

  { left: 727, top: 91, bottom: 152, total: totalNL4, p: pNL4a, s: sNL4a },
  { left: 727, top: 152, bottom: 215, total: totalNL4, p: pNL4b },
  { left: 727, top: 221, bottom: 284, total: totalNL5, p: pNL5a, s: sNL5a },
  { left: 727, top: 284, bottom: 346, total: totalNL5, p: pNL5b },
  { left: 727, top: 352, bottom: 415, total: totalNL6, p: pNL6a },
  { left: 727, top: 415, bottom: 477, total: totalNL6, p: pNL6b },
  { left: 727, top: 484, bottom: 547, total: totalNL7, p: pNL7a, s: sNL7a },
  { left: 727, top: 547, bottom: 609, total: totalNL7, p: pNL7b, labels: true },

  { left: 74, top: 744, bottom: 814, total: totalSi0, p: pSi0, s: sSi0 },
  { left: 74, top: 821, bottom: 891, total: totalSi1, p: pSi1C, s: sSi1C },
  { left: 74, top: 891, bottom: 962, total: totalSi1, p: pSi1Si },
  { left: 74, top: 969, bottom: 1039, total: totalSi2, p: pSi2a, s: sSi2a },
  { left: 74, top: 1039, bottom: 1110, total: totalSi2, p: pSi2b, s: sSi2b },
  { left: 74, top: 1117, bottom: 1187, total: totalSi3, p: pSi3a, s: sSi3a },
  { left: 74, top: 1187, bottom: 1258, total: totalSi3, p: pSi3b, labels: true },

  { left: 727, top: 743, bottom: 804, total: totalSi4, p: pSi4a, s: sSi4a },
  { left: 727, top: 804, bottom: 866, total: totalSi4, p: pSi4b },
  { left: 727, top: 873, bottom: 935, total: totalSi5, p: pSi5a },
  { left: 727, top: 935, bottom: 998, total: totalSi5, p: pSi5b },
  { left: 727, top: 1004, bottom: 1067, total: totalSi6, p: pSi6a },
  { left: 727, top: 1067, bottom: 1129, total: totalSi6, p: pSi6b },
  { left: 727, top: 1135, bottom: 1197, total: totalSi7, p: pSi7a },
  { left: 727, top: 1197, bottom: 1259, total: totalSi7, p: pSi7b, labels: true },
]

const panelLabels = [
  { text: '0-NL', x: 557, y: 115 }, { text: '1-NL', x: 557, y: 192 },
  { text: 'C', x: 410, y: 201 }, { text: 'N', x: 410, y: 272 },
  { text: '2-NL', x: 557, y: 341 }, { text: '3-NL', x: 557, y: 489 },
  { text: '4-NL', x: 1211, y: 112 }, { text: '5-NL', x: 1211, y: 243 },
  { text: '6-NL', x: 1211, y: 374 }, { text: '7-NL', x: 1211, y: 505 },
  { text: '0-SiL', x: 557, y: 768 }, { text: '1-SiL', x: 557, y: 845 },
  { text: 'C', x: 410, y: 854 }, { text: 'Si', x: 412, y: 925 },
  { text: '2-SiL', x: 557, y: 993 }, { text: '3-SiL', x: 557, y: 1141 },
  { text: '4-SiL', x: 1211, y: 763 }, { text: '5-SiL', x: 1211, y: 894 },
  { text: '6-SiL', x: 1211, y: 1025 }, { text: '7-SiL', x: 1211, y: 1156 },
]

const legendTops = [91, 744]
const axisTitles = [
  { x: 372, y: 667 }, { x: 1024, y: 669 }, { x: 372, y: 1318 }, { x: 1024, y: 1318 },
]

const EnergyTick = (props: any) => {
  const { x, y, payload } = props
  return (
    <text
      transform={`translate(${x} ${y + 33}) scale(0.88 1)`}
      textAnchor="middle"
      fontSize={26}
      fontFamily={FONT}
      fill="#000"
    >
      {Number(payload.value).toFixed(1)}
    </text>
  )
}

const lineStyle = { stroke: '#000', strokeWidth: 1.5 }
const tickStyle = { stroke: '#000', strokeWidth: 1.2 }

function Panel({ left, top, bottom, total, p, s, labels }: any) {
  const h = bottom - top
  const data = energy.map((e, i) => ({ e, total: total[i], p: p[i], s: s ? s[i] : 0 }))
  const axisH = labels ? 44 : 1
  return (
    <div style={{ position: 'absolute', left: left - PAD_X, top: top - PAD }}>
      <AreaChart
        width={PLOT_W + 2 * PAD_X}
        height={h + 2 * PAD + (labels ? 44 : 0)}
        data={data}
        margin={{ top: PAD - 1, right: PAD_X - 1, bottom: labels ? PAD : PAD - 1, left: PAD_X - 1 }}
      >
        <XAxis
          dataKey="e" type="number" domain={[-3, 3]} ticks={xTicks} interval={0}
          height={axisH} tickSize={-6} tickMargin={6}
          tick={labels ? <EnergyTick /> : false}
          axisLine={lineStyle} tickLine={tickStyle} allowDataOverflow
        />
        <XAxis
          xAxisId="top" orientation="top" dataKey="e" type="number" domain={[-3, 3]}
          ticks={xTicks} interval={0} height={1} tickSize={-6} tick={false}
          axisLine={lineStyle} tickLine={tickStyle} allowDataOverflow
        />
        <YAxis
          domain={[0, 4]} ticks={yTicks} width={1} tickSize={-6} tick={false}
          axisLine={lineStyle} tickLine={tickStyle} allowDataOverflow
        />
        <YAxis
          yAxisId="r" orientation="right" domain={[0, 4]} ticks={yTicks} width={1}
          tickSize={-6} tick={false} axisLine={lineStyle} tickLine={tickStyle} allowDataOverflow
        />
        <Area dataKey="total" type="linear" fill={BLUE} fillOpacity={1} stroke={BLUE_EDGE}
          strokeWidth={1} dot={false} activeDot={false} isAnimationActive={false} />
        <Area dataKey="p" type="linear" fill={ORANGE} fillOpacity={1} stroke={ORANGE}
          strokeWidth={0.5} dot={false} activeDot={false} isAnimationActive={false} />
        {s && (
          <Area dataKey="s" type="linear" fill={RED} fillOpacity={1} stroke={RED}
            strokeWidth={0.5} dot={false} activeDot={false} isAnimationActive={false} />
        )}
        <ReferenceLine x={0} stroke="#000" strokeWidth={1} strokeDasharray="2 3" />
      </AreaChart>
    </div>
  )
}

const centered = (x: number, y: number, size = 26) => ({
  position: 'absolute' as const,
  left: x,
  top: y,
  transform: 'translate(-50%, -50%) scaleX(0.88)',
  fontSize: size,
  lineHeight: 1,
  whiteSpace: 'pre' as const,
})

function Legend({ top }: { top: number }) {
  const rows = [
    { text: 'Total', color: BLUE, dy: 17, bar: 18 },
    { text: 'p', color: ORANGE, dy: 32, bar: 37 },
    { text: 's', color: RED, dy: 52, bar: 55 },
  ]
  return (
    <>
      {rows.map((r) => (
        <div key={r.text}>
          <div style={{
            position: 'absolute', left: 151, width: 100, top: top + r.dy - 7, height: 14,
            lineHeight: '14px', fontSize: 26, textAlign: 'right',
            transform: 'scaleX(0.88)', transformOrigin: 'right center',
          }}>{r.text}</div>
          <div style={{
            position: 'absolute', left: 265, top: top + r.bar - 5, width: 72, height: 10,
            background: r.color,
          }} />
        </div>
      ))}
    </>
  )
}

export default function App() {
  return (
    <div style={{
      position: 'absolute', left: 0, top: 0, width: 1345, height: 1336,
      background: '#fff', fontFamily: FONT, color: '#000', overflow: 'hidden',
    }}>
      {panels.map((pn, i) => <Panel key={i} {...pn} />)}

      {panelLabels.map((l, i) => (
        <div key={i} style={centered(l.x, l.y)}>{l.text}</div>
      ))}

      {legendTops.map((t) => <Legend key={t} top={t} />)}

      {axisTitles.map((a, i) => (
        <div key={i} style={centered(a.x, a.y)}>
          E-E<sub style={{ fontStyle: 'italic', fontSize: 18, verticalAlign: '-3px', lineHeight: 0 }}>f</sub>{'  (eV)'}
        </div>
      ))}

      <div style={{ ...centered(27, 348, 29), transform: 'translate(-50%, -50%) rotate(-90deg) scaleX(0.9)' }}>PDOS (a.u)</div>
      <div style={{ ...centered(30, 1005, 29), transform: 'translate(-50%, -50%) rotate(-90deg) scaleX(0.9)' }}>PDOS (a.u)</div>

      <div style={{ position: 'absolute', left: 33, top: 12, fontSize: 34, lineHeight: 1 }}>(a)</div>
      <div style={{ position: 'absolute', left: 43, top: 683, fontSize: 34, lineHeight: 1 }}>(b)</div>
    </div>
  )
}
